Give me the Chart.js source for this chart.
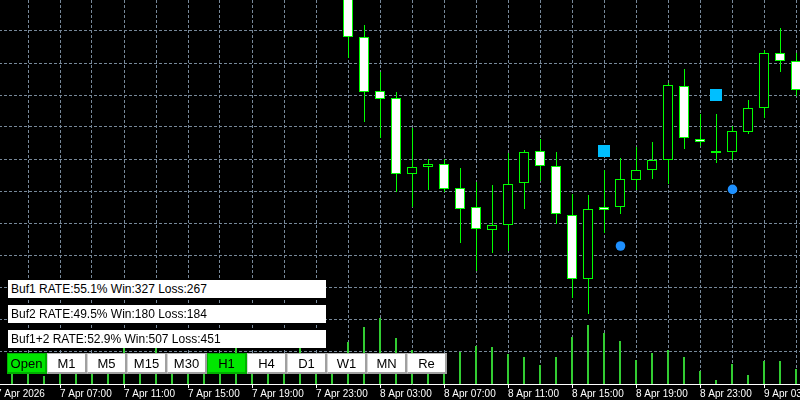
<!DOCTYPE html>
<html>
<head>
<meta charset="utf-8">
<script src="https://cdn.jsdelivr.net/npm/chart.js@4.4.1/dist/chart.umd.min.js"></script>
<style>
  html, body { margin: 0; padding: 0; background: #000; }
  body { position: relative; width: 800px; height: 400px; overflow: hidden; font-family: "Liberation Sans", Arial, sans-serif; }
  #wrap { position: absolute; left: -16px; top: 0; width: 856px; height: 400px; }
  .info { position: absolute; left: 8px; width: 318px; height: 18px; padding-left: 3px; box-sizing: border-box;
          background: #fff; color: #000; font-size: 12px; line-height: 19px; white-space: nowrap; }
  .btn { position: absolute; top: 353px; width: 40px; height: 21px; box-sizing: border-box; background: #fff; color: #000;
         border-style: solid; border-width: 1px 2px 2px 1px; border-color: #b4b4b4 #a0a0a0 #a0a0a0 #d4d4d4;
         font-size: 13px; line-height: 20px; text-align: center; white-space: nowrap; }
  .btn.on { background: #00e600; border-color: #00b000; }
</style>
</head>
<body>
<div id="wrap"><canvas id="chart" width="856" height="400"></canvas></div>
<div id="overlay"></div>
<script>
// H1 bars, index 0 = 7 Apr 04:00. Bars before firstCandle sit above the visible price range.
const volumes = [650, 600, 200, 625, 550, 675, 575, 1100, 625, 1100,
                 600, 700, 550, 650, 1100, 675, 600, 625, 1100, 650,
                 600, 1050, 1425, 1650, 1150, 850, 650, 600, 800, 950,
                 925, 750, 675, 475, 675, 1175, 1475, 1275, 1075, 600,
                 775, 850, 675, 325, 100, 500, 225, 575, 575, 375];

const firstCandle = 21;
const opens  = [4722.75, 4710.50, 4697.00, 4695.25, 4676.25, 4678.00, 4678.75, 4672.75, 4668.00, 4662.25,
                4663.50, 4674.00, 4682.00, 4678.25, 4666.00, 4650.00, 4668.00, 4668.00, 4674.75, 4677.25,
                4679.75, 4698.25, 4685.00, 4681.50, 4681.75, 4686.75, 4692.75, 4706.50, 4704.50];
const highs  = [4724.75, 4713.50, 4701.75, 4696.75, 4687.75, 4680.00, 4680.00, 4677.75, 4674.25, 4673.50,
                4681.50, 4682.25, 4685.00, 4681.75, 4671.25, 4671.00, 4677.25, 4680.25, 4683.00, 4684.25,
                4699.00, 4702.50, 4691.25, 4691.25, 4688.25, 4694.75, 4707.25, 4712.75, 4706.50];
const lows   = [4705.25, 4689.25, 4685.25, 4671.75, 4668.00, 4672.25, 4671.75, 4659.00, 4652.00, 4656.50,
                4657.00, 4667.50, 4674.50, 4663.75, 4645.25, 4641.25, 4661.50, 4666.25, 4672.25, 4675.00,
                4673.75, 4682.50, 4683.25, 4679.00, 4679.75, 4686.25, 4690.25, 4701.75, 4695.75];
const closes = [4710.50, 4696.75, 4695.00, 4676.25, 4678.00, 4678.75, 4672.50, 4667.50, 4662.50, 4663.50,
                4673.75, 4681.75, 4678.25, 4666.25, 4650.00, 4667.50, 4667.25, 4675.00, 4677.25, 4679.75,
                4698.50, 4685.25, 4684.25, 4682.00, 4687.00, 4692.75, 4706.50, 4704.50, 4697.25];

// indicator buffers: squares (buffer 1) and dots (buffer 2)
const buf1Bars = [37, 44];
const buf1Prices = [4682.00, 4696.00];
const buf2Bars = [38, 45];
const buf2Prices = [4658.25, 4672.40];

const tickBars = [-1, 3, 7, 11, 15, 19, 23, 27, 31, 35, 39, 43, 47];
const tickLabels = ['7 Apr 2026', '7 Apr 07:00', '7 Apr 11:00', '7 Apr 15:00', '7 Apr 19:00', '7 Apr 23:00',
                    '8 Apr 03:00', '8 Apr 07:00', '8 Apr 11:00', '8 Apr 15:00', '8 Apr 19:00', '8 Apr 23:00',
                    '9 Apr 03:00'];

const statLines = ['Buf1 RATE:55.1% Win:327 Loss:267',
                   'Buf2 RATE:49.5% Win:180 Loss:184',
                   'Buf1+2 RATE:52.9% Win:507 Loss:451'];
const buttonLabels = ['Open', 'M1', 'M5', 'M15', 'M30', 'H1', 'H4', 'D1', 'W1', 'MN', 'Re'];
const activeButtons = ['Open', 'H1'];

// overlay: stats boxes and timeframe buttons
const overlay = document.getElementById('overlay');
statLines.forEach((line, i) => {
  const d = document.createElement('div');
  d.className = 'info';
  d.style.top = (280 + i * 25) + 'px';
  d.textContent = line;
  overlay.appendChild(d);
});
buttonLabels.forEach((label, i) => {
  const b = document.createElement('div');
  b.className = 'btn' + (activeButtons.includes(label) ? ' on' : '');
  b.style.left = (7 + i * 40) + 'px';
  b.textContent = label;
  overlay.appendChild(b);
});

// scale setup (1px = 0.25 price, 16px per bar)
const PRICE_TOP = 4719.75, PRICE_BOTTOM = 4623.75;
const VOL_MAX = 9600;
const X_MIN = -1.75, X_MAX = 51.75;
const gridPrices = [];
for (let p = 4712; p >= 4632; p -= 8) gridPrices.push(p);
const gridBars = [];
for (let k = -1; k <= 49; k += 2) gridBars.push(k);
const GRID = '#778899';
const LIME = '#00ff00';

const bodies = opens.map((o, i) => ({ x: firstCandle + i, y: [o, closes[i]] }));
const bodyFill = opens.map((o, i) => closes[i] < o ? '#ffffff' : '#000000');
const wicks = highs.map((h, i) => ({ x: firstCandle + i, y: [lows[i], h] }));
const vols = volumes.map((v, i) => ({ x: i, y: v }));

Chart.defaults.font.family = '"Liberation Sans", Arial, sans-serif';

new Chart(document.getElementById('chart'), {
  type: 'bar',
  data: {
    datasets: [
      {
        label: 'body', data: bodies, xAxisID: 'x', yAxisID: 'y',
        backgroundColor: bodyFill, borderColor: LIME, borderWidth: 1, borderSkipped: false,
        barThickness: 10, grouped: false, inflateAmount: 0, order: 1,
      },
      {
        label: 'wick', data: wicks, xAxisID: 'x2', yAxisID: 'y',
        backgroundColor: LIME, borderWidth: 0, barThickness: 1, grouped: false, inflateAmount: 0, order: 2,
      },
      {
        label: 'volume', data: vols, xAxisID: 'x', yAxisID: 'yv',
        backgroundColor: '#32cd32', borderWidth: 0, barThickness: 2, grouped: false, inflateAmount: 0, order: 3,
      },
      {
        type: 'scatter', label: 'buf1', xAxisID: 'x', yAxisID: 'y',
        data: buf1Bars.map((b, i) => ({ x: b, y: buf1Prices[i] })),
        pointStyle: 'rect', pointRadius: 8.4853, backgroundColor: '#00bfff', pointBorderWidth: 0, order: 0,
      },
      {
        type: 'scatter', label: 'buf2', xAxisID: 'x2', yAxisID: 'y',
        data: buf2Bars.map((b, i) => ({ x: b, y: buf2Prices[i] })),
        pointStyle: 'circle', pointRadius: 4.8, backgroundColor: '#1e90ff', pointBorderWidth: 0, order: 0,
      },
    ],
  },
  options: {
    responsive: false,
    animation: false,
    devicePixelRatio: 1,
    events: [],
    layout: { padding: 0, autoPadding: false },
    plugins: { legend: { display: false }, tooltip: { enabled: false }, title: { display: false } },
    scales: {
      x: {
        type: 'linear', position: 'bottom', min: X_MIN, max: X_MAX, offset: false,
        afterBuildTicks: (s) => { s.ticks = gridBars.map(v => ({ value: v })); },
        grid: {
          offset: false, color: GRID, lineWidth: 1, tickLength: 4,
          tickColor: (ctx) => (ctx.tick && tickBars.includes(ctx.tick.value)) ? '#ffffff' : 'rgba(0,0,0,0)',
        },
        border: { display: true, color: '#ffffff', width: 1, dash: [3, 2] },
        ticks: {
          autoSkip: false, maxRotation: 0, minRotation: 0, align: 'start', padding: 0,
          color: '#ffffff', font: { size: 10, lineHeight: '12px' },
          callback: (v) => { const i = tickBars.indexOf(v); return i >= 0 ? tickLabels[i] : ''; },
        },
      },
      x2: { type: 'linear', display: false, min: X_MIN - 1 / 32, max: X_MAX - 1 / 32, offset: false },
      y: {
        type: 'linear', position: 'left', min: PRICE_BOTTOM, max: PRICE_TOP,
        afterBuildTicks: (s) => { s.ticks = gridPrices.map(v => ({ value: v })); },
        grid: { color: GRID, lineWidth: 1, drawTicks: false },
        border: { display: false, dash: [3, 2] },
        ticks: { display: false },
      },
      yv: { type: 'linear', axis: 'y', display: false, min: 0, max: VOL_MAX },
    },
  },
});
</script>
</body>
</html>
